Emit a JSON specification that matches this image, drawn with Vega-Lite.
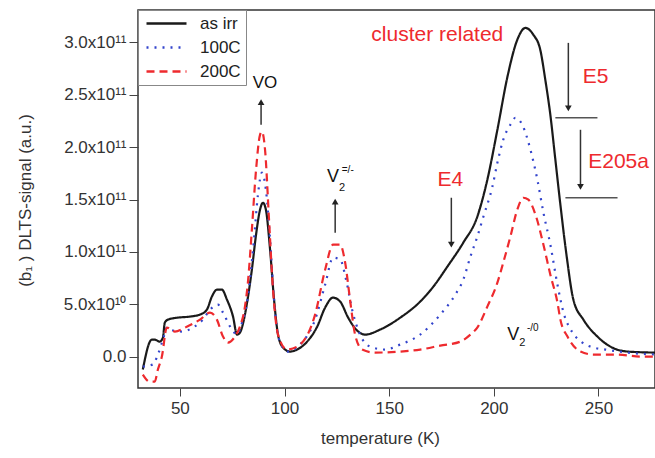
{
"$schema":"https://vega.github.io/schema/vega-lite/v6.json",
"width":517,"height":378,
"autosize":{"type":"none"},
"padding":{"left":138,"top":10,"right":0,"bottom":70},
"background":"white",
"config":{"view":{"stroke":"#333","strokeWidth":1.5},"font":"Liberation Sans",
 "legend":{"orient":"top-left","offset":0,"title":null,"fillColor":"white","strokeColor":"#888","padding":5,"symbolStrokeWidth":2.5,"labelFontSize":17,"labelColor":"#222","rowPadding":6,"labelOffset":40}},
"datasets":{
"curves":[
{"T":32.3,"s":-0.124,"series":"as irr"},{"T":36.6,"s":0.162,"series":"as irr"},{"T":38.0,"s":0.162,"series":"as irr"},{"T":40.4,"s":0.143,"series":"as irr"},{"T":41.9,"s":0.181,"series":"as irr"},{"T":42.8,"s":0.324,"series":"as irr"},{"T":44.3,"s":0.353,"series":"as irr"},{"T":49.0,"s":0.372,"series":"as irr"},{"T":54.8,"s":0.382,"series":"as irr"},{"T":59.6,"s":0.401,"series":"as irr"},{"T":62.9,"s":0.448,"series":"as irr"},{"T":65.3,"s":0.573,"series":"as irr"},{"T":67.7,"s":0.639,"series":"as irr"},{"T":70.1,"s":0.639,"series":"as irr"},{"T":72.5,"s":0.544,"series":"as irr"},{"T":75.4,"s":0.382,"series":"as irr"},{"T":77.3,"s":0.210,"series":"as irr"},{"T":78.7,"s":0.229,"series":"as irr"},{"T":80.6,"s":0.353,"series":"as irr"},{"T":82.1,"s":0.515,"series":"as irr"},{"T":84.4,"s":0.830,"series":"as irr"},{"T":86.4,"s":1.164,"series":"as irr"},{"T":88.3,"s":1.403,"series":"as irr"},{"T":89.7,"s":1.469,"series":"as irr"},{"T":91.1,"s":1.403,"series":"as irr"},{"T":93.1,"s":1.021,"series":"as irr"},{"T":95.0,"s":0.544,"series":"as irr"},{"T":96.9,"s":0.210,"series":"as irr"},{"T":99.3,"s":0.086,"series":"as irr"},{"T":102.6,"s":0.048,"series":"as irr"},{"T":106.0,"s":0.067,"series":"as irr"},{"T":110.8,"s":0.143,"series":"as irr"},{"T":115.6,"s":0.286,"series":"as irr"},{"T":119.4,"s":0.468,"series":"as irr"},{"T":123.2,"s":0.563,"series":"as irr"},{"T":126.6,"s":0.525,"series":"as irr"},{"T":130.4,"s":0.372,"series":"as irr"},{"T":134.2,"s":0.258,"series":"as irr"},{"T":138.5,"s":0.210,"series":"as irr"},{"T":145.7,"s":0.258,"series":"as irr"},{"T":155.3,"s":0.372,"series":"as irr"},{"T":164.8,"s":0.525,"series":"as irr"},{"T":171.1,"s":0.668,"series":"as irr"},{"T":177.8,"s":0.859,"series":"as irr"},{"T":185.4,"s":1.088,"series":"as irr"},{"T":192.1,"s":1.336,"series":"as irr"},{"T":196.9,"s":1.689,"series":"as irr"},{"T":201.7,"s":2.166,"series":"as irr"},{"T":206.5,"s":2.672,"series":"as irr"},{"T":211.2,"s":3.025,"series":"as irr"},{"T":215.1,"s":3.139,"series":"as irr"},{"T":218.9,"s":3.073,"series":"as irr"},{"T":222.2,"s":2.929,"series":"as irr"},{"T":224.6,"s":2.643,"series":"as irr"},{"T":227.0,"s":2.309,"series":"as irr"},{"T":229.4,"s":1.880,"series":"as irr"},{"T":231.8,"s":1.450,"series":"as irr"},{"T":234.7,"s":0.973,"series":"as irr"},{"T":238.0,"s":0.544,"series":"as irr"},{"T":242.8,"s":0.353,"series":"as irr"},{"T":249.5,"s":0.191,"series":"as irr"},{"T":255.7,"s":0.095,"series":"as irr"},{"T":263.9,"s":0.048,"series":"as irr"},{"T":277.3,"s":0.038,"series":"as irr"},
{"T":32.3,"s":-0.095,"series":"100C"},{"T":37.1,"s":-0.076,"series":"100C"},{"T":39.5,"s":0.019,"series":"100C"},{"T":41.9,"s":0.162,"series":"100C"},{"T":43.8,"s":0.277,"series":"100C"},{"T":45.2,"s":0.258,"series":"100C"},{"T":51.0,"s":0.239,"series":"100C"},{"T":56.2,"s":0.277,"series":"100C"},{"T":61.0,"s":0.353,"series":"100C"},{"T":64.4,"s":0.448,"series":"100C"},{"T":68.2,"s":0.496,"series":"100C"},{"T":70.6,"s":0.420,"series":"100C"},{"T":74.9,"s":0.258,"series":"100C"},{"T":77.3,"s":0.210,"series":"100C"},{"T":79.7,"s":0.324,"series":"100C"},{"T":82.1,"s":0.515,"series":"100C"},{"T":83.5,"s":0.735,"series":"100C"},{"T":85.4,"s":1.116,"series":"100C"},{"T":87.3,"s":1.546,"series":"100C"},{"T":89.2,"s":1.756,"series":"100C"},{"T":91.1,"s":1.594,"series":"100C"},{"T":93.1,"s":1.116,"series":"100C"},{"T":95.0,"s":0.544,"series":"100C"},{"T":97.4,"s":0.162,"series":"100C"},{"T":101.7,"s":0.048,"series":"100C"},{"T":107.4,"s":0.115,"series":"100C"},{"T":114.6,"s":0.353,"series":"100C"},{"T":119.4,"s":0.687,"series":"100C"},{"T":123.2,"s":0.945,"series":"100C"},{"T":126.6,"s":0.926,"series":"100C"},{"T":129.4,"s":0.735,"series":"100C"},{"T":132.3,"s":0.448,"series":"100C"},{"T":136.1,"s":0.210,"series":"100C"},{"T":140.9,"s":0.095,"series":"100C"},{"T":148.1,"s":0.067,"series":"100C"},{"T":155.3,"s":0.115,"series":"100C"},{"T":164.8,"s":0.210,"series":"100C"},{"T":174.4,"s":0.401,"series":"100C"},{"T":181.6,"s":0.592,"series":"100C"},{"T":185.4,"s":0.735,"series":"100C"},{"T":188.8,"s":0.954,"series":"100C"},{"T":192.1,"s":1.145,"series":"100C"},{"T":195.0,"s":1.336,"series":"100C"},{"T":199.3,"s":1.622,"series":"100C"},{"T":201.7,"s":1.851,"series":"100C"},{"T":204.5,"s":2.071,"series":"100C"},{"T":207.9,"s":2.214,"series":"100C"},{"T":210.3,"s":2.281,"series":"100C"},{"T":213.6,"s":2.214,"series":"100C"},{"T":217.5,"s":1.975,"series":"100C"},{"T":220.8,"s":1.689,"series":"100C"},{"T":223.7,"s":1.374,"series":"100C"},{"T":227.0,"s":1.069,"series":"100C"},{"T":230.4,"s":0.687,"series":"100C"},{"T":233.3,"s":0.420,"series":"100C"},{"T":237.6,"s":0.229,"series":"100C"},{"T":242.3,"s":0.134,"series":"100C"},{"T":247.6,"s":0.086,"series":"100C"},{"T":253.3,"s":0.067,"series":"100C"},{"T":263.9,"s":0.038,"series":"100C"},{"T":277.3,"s":0.019,"series":"100C"},
{"T":32.3,"s":-0.172,"series":"200C"},{"T":35.6,"s":-0.239,"series":"200C"},{"T":38.0,"s":-0.239,"series":"200C"},{"T":39.5,"s":-0.124,"series":"200C"},{"T":41.4,"s":0.0,"series":"200C"},{"T":43.8,"s":0.277,"series":"200C"},{"T":47.6,"s":0.239,"series":"200C"},{"T":53.3,"s":0.286,"series":"200C"},{"T":59.6,"s":0.353,"series":"200C"},{"T":64.4,"s":0.420,"series":"200C"},{"T":67.7,"s":0.353,"series":"200C"},{"T":70.6,"s":0.191,"series":"200C"},{"T":73.0,"s":0.134,"series":"200C"},{"T":76.3,"s":0.191,"series":"200C"},{"T":78.7,"s":0.286,"series":"200C"},{"T":81.1,"s":0.477,"series":"200C"},{"T":82.5,"s":0.706,"series":"200C"},{"T":84.4,"s":1.212,"series":"200C"},{"T":86.4,"s":1.784,"series":"200C"},{"T":88.3,"s":2.118,"series":"200C"},{"T":89.2,"s":2.147,"series":"200C"},{"T":90.7,"s":1.975,"series":"200C"},{"T":92.6,"s":1.307,"series":"200C"},{"T":94.5,"s":0.639,"series":"200C"},{"T":96.9,"s":0.210,"series":"200C"},{"T":101.2,"s":0.067,"series":"200C"},{"T":107.4,"s":0.115,"series":"200C"},{"T":114.6,"s":0.401,"series":"200C"},{"T":119.4,"s":0.830,"series":"200C"},{"T":123.2,"s":1.069,"series":"200C"},{"T":126.6,"s":1.069,"series":"200C"},{"T":128.9,"s":0.906,"series":"200C"},{"T":131.3,"s":0.544,"series":"200C"},{"T":133.7,"s":0.210,"series":"200C"},{"T":137.1,"s":0.067,"series":"200C"},{"T":143.3,"s":0.038,"series":"200C"},{"T":155.3,"s":0.048,"series":"200C"},{"T":164.8,"s":0.067,"series":"200C"},{"T":174.4,"s":0.105,"series":"200C"},{"T":184.0,"s":0.143,"series":"200C"},{"T":188.8,"s":0.210,"series":"200C"},{"T":192.1,"s":0.277,"series":"200C"},{"T":196.9,"s":0.477,"series":"200C"},{"T":201.7,"s":0.706,"series":"200C"},{"T":204.5,"s":0.897,"series":"200C"},{"T":207.9,"s":1.145,"series":"200C"},{"T":211.2,"s":1.403,"series":"200C"},{"T":214.1,"s":1.517,"series":"200C"},{"T":216.5,"s":1.498,"series":"200C"},{"T":219.9,"s":1.355,"series":"200C"},{"T":223.7,"s":1.069,"series":"200C"},{"T":227.0,"s":0.782,"series":"200C"},{"T":230.4,"s":0.515,"series":"200C"},{"T":231.8,"s":0.353,"series":"200C"},{"T":235.2,"s":0.191,"series":"200C"},{"T":241.4,"s":0.048,"series":"200C"},{"T":247.6,"s":0.019,"series":"200C"},{"T":259.1,"s":0.019,"series":"200C"},{"T":270.1,"s":0.0,"series":"200C"},{"T":277.3,"s":0.0,"series":"200C"}
],
"arrows":[
{"T":88.8,"ya":2.214,"yb":2.43,"dir":"up"},
{"T":124.2,"ya":1.183,"yb":1.48,"dir":"up"},
{"T":179.7,"ya":1.517,"yb":1.07,"dir":"down"},
{"T":235.6,"ya":2.996,"yb":2.37,"dir":"down"},
{"T":241.4,"ya":2.166,"yb":1.62,"dir":"down"}
],
"hlines":[{"Ta":229.4,"Tb":249.5,"s":2.281},{"Ta":234.2,"Tb":259.1,"s":1.517}],
"redtext":[{"T":173.0,"s":3.073,"label":"cluster related"},{"T":179.2,"s":1.689,"label":"E4"},{"T":248.6,"s":2.672,"label":"E5"},{"T":259.6,"s":1.861,"label":"E205a"}],
"vtext":[{"T":123.2,"s":1.718,"label":"V"},{"T":209.3,"s":0.210,"label":"V"}],
"subtext":[{"T":127.5,"s":1.613,"label":"2"},{"T":213.6,"s":0.134,"label":"2"}],
"suptext":[{"T":130.2,"s":1.784,"label":"=/-"},{"T":218.6,"s":0.277,"label":"-/0"}],
"votext":[{"T":90.7,"s":2.614,"label":"VO"}]
},
"layer":[
{"data":{"name":"curves"},"mark":{"type":"line","strokeWidth":2.2,"clip":true,"interpolate":"monotone"},
 "encoding":{
  "x":{"field":"T","type":"quantitative","scale":{"domain":[30,277],"nice":false,"zero":false},
   "axis":{"values":[50,100,150,200,250],"domain":false,"grid":false,"tickSize":8,"tickColor":"#444","labelPadding":4,"labelFontSize":17,"labelColor":"#333","title":"temperature (K)","titleFontSize":17,"titleFontWeight":"normal","titleColor":"#333","titleX":242,"titleY":50,"titleBaseline":"middle"}},
  "y":{"field":"s","type":"quantitative","scale":{"domain":[-0.3,3.31],"nice":false,"zero":false},
   "axis":{"values":[0,0.5,1,1.5,2,2.5,3],"domain":false,"grid":false,"tickSize":9,"tickColor":"#444","labelPadding":3,"labelFontSize":17,"labelColor":"#333",
    "labelExpr":"datum.value == 0 ? '0.0' : (datum.value == 0.5 ? '5.0x10¹⁰' : format(datum.value, '.1f') + 'x10¹¹')",
    "title":"(b₁ ) DLTS-signal (a.u.)","titleFontSize":17,"titleFontWeight":"normal","titleColor":"#333","titleX":-113,"titleY":190,"titleAngle":-90,"titleAlign":"center","titleBaseline":"middle"}},
  "color":{"field":"series","type":"nominal","sort":["as irr","100C","200C"],"scale":{"domain":["as irr","100C","200C"],"range":["#1a1a1a","#3344cc","#ee2a2e"]},
   "legend":{"symbolType":"M-1,0H7","symbolSize":100}},
  "strokeDash":{"field":"series","type":"nominal","sort":["as irr","100C","200C"],"scale":{"domain":["as irr","100C","200C"],"range":[[1,0],[2,6],[8,5]]},
   "legend":{"symbolType":"M-1,0H7","symbolSize":100}}
 }},
{"data":{"name":"arrows"},"mark":{"type":"rule","color":"#333","strokeWidth":1.5},
 "encoding":{"x":{"field":"T","type":"quantitative"},"y":{"field":"ya","type":"quantitative"},"y2":{"field":"yb"}}},
{"data":{"name":"arrows"},"mark":{"type":"point","filled":true,"color":"#222","size":45,"opacity":1},
 "encoding":{"x":{"field":"T","type":"quantitative"},"y":{"field":"yb","type":"quantitative"},
  "shape":{"field":"dir","type":"nominal","scale":{"domain":["up","down"],"range":["triangle-up","triangle-down"]},"legend":null}}},
{"data":{"name":"hlines"},"mark":{"type":"rule","color":"#555","strokeWidth":1.5},
 "encoding":{"x":{"field":"Ta","type":"quantitative"},"x2":{"field":"Tb"},"y":{"field":"s","type":"quantitative"}}},
{"data":{"name":"redtext"},"mark":{"type":"text","color":"#ee2a2e","fontSize":21,"align":"center","baseline":"middle"},
 "encoding":{"x":{"field":"T","type":"quantitative"},"y":{"field":"s","type":"quantitative"},"text":{"field":"label"}}},
{"data":{"name":"votext"},"mark":{"type":"text","color":"#111","fontSize":17,"align":"center","baseline":"middle"},
 "encoding":{"x":{"field":"T","type":"quantitative"},"y":{"field":"s","type":"quantitative"},"text":{"field":"label"}}},
{"data":{"name":"vtext"},"mark":{"type":"text","color":"#111","fontSize":18,"align":"center","baseline":"middle"},
 "encoding":{"x":{"field":"T","type":"quantitative"},"y":{"field":"s","type":"quantitative"},"text":{"field":"label"}}},
{"data":{"name":"subtext"},"mark":{"type":"text","color":"#111","fontSize":11,"align":"center","baseline":"middle"},
 "encoding":{"x":{"field":"T","type":"quantitative"},"y":{"field":"s","type":"quantitative"},"text":{"field":"label"}}},
{"data":{"name":"suptext"},"mark":{"type":"text","color":"#111","fontSize":10,"align":"center","baseline":"middle"},
 "encoding":{"x":{"field":"T","type":"quantitative"},"y":{"field":"s","type":"quantitative"},"text":{"field":"label"}}}
]
}
